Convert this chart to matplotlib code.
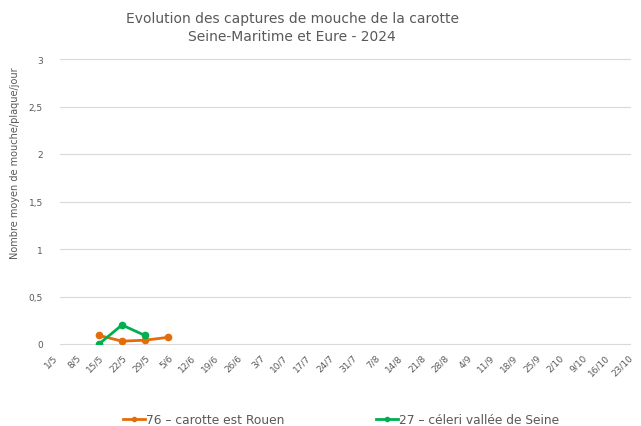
import matplotlib
matplotlib.use("Agg")
import matplotlib.pyplot as plt
import matplotlib.transforms as mtransforms
from matplotlib.lines import Line2D

dates = ["1/5", "8/5", "15/5", "22/5", "29/5", "5/6", "12/6", "19/6", "26/6", "3/7",
         "10/7", "17/7", "24/7", "31/7", "7/8", "14/8", "21/8", "28/8", "4/9", "11/9",
         "18/9", "25/9", "2/10", "9/10", "16/10", "23/10"]

s76_name = "76 \u2013 carotte est Rouen"
s76_dates = ["15/5", "22/5", "29/5", "5/6"]
s76_vals = [0.09, 0.03, 0.04, 0.07]

s27_name = "27 \u2013 céleri vallée de Seine"
s27_dates = ["15/5", "22/5", "29/5"]
s27_vals = [0.0, 0.20, 0.09]

yticks = [0, 0.5, 1, 1.5, 2, 2.5, 3]
ytick_labels = ["0", "0,5", "1", "1,5", "2", "2,5", "3"]

ORANGE = "#E46C0A"
GREEN = "#00B050"
GRAY = "#595959"

W, H = 641, 427
fig = plt.figure(figsize=(W / 100, H / 100), dpi=100)
ax_left = 52.5
ax = fig.add_axes([ax_left / W, 1 - 345 / H, (630 - ax_left) / W, (345 - 60) / H])

idx = {d: i for i, d in enumerate(dates)}
ax.plot([idx[d] for d in s76_dates], s76_vals, color=ORANGE, lw=2, marker="o", ms=4.5, label=s76_name, zorder=3)
ax.plot([idx[d] for d in s27_dates], s27_vals, color=GREEN, lw=2, marker="o", ms=4.5, label=s27_name, zorder=3)

ax.set_xlim(-0.02, 25.08)
ax.set_ylim(0, 3)
ax.set_yticks(yticks)
ax.set_yticklabels(ytick_labels, color=GRAY, fontsize=6.5)
ax.set_xticks(range(len(dates)))
ax.set_xticklabels(dates, rotation=45, ha="right", rotation_mode="anchor", color=GRAY, fontsize=6.5)
off = mtransforms.ScaledTranslation(4 / 72, 0, fig.dpi_scale_trans)
for lab in ax.get_xticklabels():
    lab.set_transform(lab.get_transform() + off)
ax.tick_params(axis="both", length=0)
ax.tick_params(axis="y", pad=7)
ax.tick_params(axis="x", pad=6)
ax.grid(False)
grid_xmin = (60 - ax_left) / (630 - ax_left)
for y in yticks:
    ax.axhline(y, xmin=grid_xmin, xmax=1, color="#D9D9D9", lw=0.8, zorder=0, clip_on=False)
for sp in ax.spines.values():
    sp.set_visible(False)

fig.text(292 / W, 1 - 28 / H, "Evolution des captures de mouche de la carotte\nSeine-Maritime et Eure - 2024",
         ha="center", va="center", fontsize=10, color=GRAY, linespacing=1.4)
fig.text(15 / W, 1 - 163 / H, "Nombre moyen de mouche/plaque/jour", rotation=90,
         ha="center", va="center", fontsize=7, color=GRAY)

handles = [Line2D([0], [0], color=ORANGE, lw=2, marker="o", ms=3),
           Line2D([0], [0], color=GREEN, lw=2, marker="o", ms=3)]
fig.legend(handles, [s76_name, s27_name], loc="center", bbox_to_anchor=(341 / W, 1 - 421 / H),
           ncol=2, frameon=False, fontsize=8.8, labelcolor=GRAY, handlelength=1.8,
           handletextpad=0.1, columnspacing=7.5)

fig.savefig("out.png", dpi=100, facecolor="white")
